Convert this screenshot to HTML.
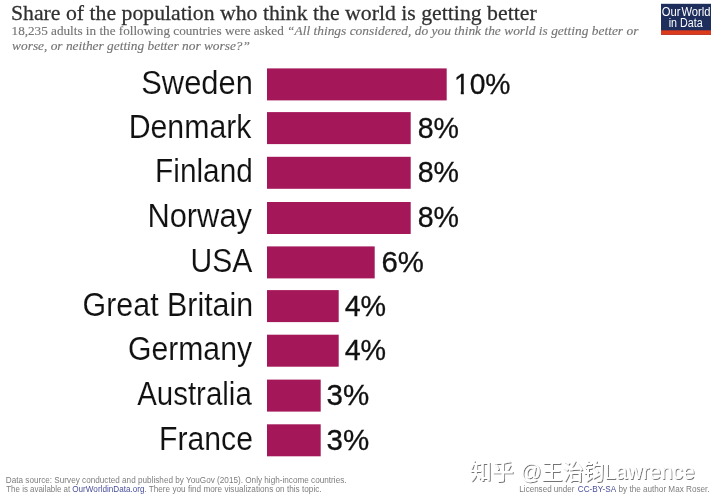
<!DOCTYPE html>
<html><head><meta charset="utf-8"><title>Share of the population who think the world is getting better</title>
<style>
html,body{margin:0;padding:0;background:#fff;}
body{width:714px;height:500px;overflow:hidden;}
svg{display:block;}
.ttl{font-family:"Liberation Serif","DejaVu Serif",serif;fill:#303030;stroke:#303030;stroke-width:0.25px;}
.sub{font-family:"Liberation Serif","DejaVu Serif",serif;fill:#757575;stroke:#757575;stroke-width:0.15px;}
.lab{font-family:"Liberation Sans","DejaVu Sans",sans-serif;fill:#111;stroke:#fff;stroke-width:0.12px;}
.val{font-family:"Liberation Sans","DejaVu Sans",sans-serif;fill:#111;stroke:#111;stroke-width:0.3px;}
.ft{font-family:"Liberation Sans","DejaVu Sans",sans-serif;fill:#7d7d7d;}
.lk{fill:#4a4f9c;}
.logo{font-family:"Liberation Sans","DejaVu Sans",sans-serif;fill:#fff;}
.wm{font-family:"Liberation Sans","Noto Sans CJK SC",sans-serif;fill:#fff;font-weight:500;}
</style></head><body>
<svg width="714" height="500" viewBox="0 0 714 500">
<defs><filter id="sh" x="-5%" y="-20%" width="110%" height="150%"><feDropShadow dx="1" dy="1" stdDeviation="0.7" flood-color="#000" flood-opacity="0.55"/></filter></defs>
<rect width="714" height="500" fill="#fff"/>
<rect x="661" y="3.8" width="50" height="31" fill="#1d2d5c"/>
<rect x="661" y="30.3" width="50" height="4.5" fill="#dc3a1d"/>
<rect x="267" y="68.40" width="179.7" height="32" fill="#a4185a"/>
<rect x="267" y="112.10" width="143.7" height="32" fill="#a4185a"/>
<rect x="267" y="156.80" width="143.7" height="32" fill="#a4185a"/>
<rect x="267" y="202.00" width="143.7" height="32" fill="#a4185a"/>
<rect x="267" y="246.40" width="107.7" height="32" fill="#a4185a"/>
<rect x="267" y="290.10" width="71.7" height="32" fill="#a4185a"/>
<rect x="267" y="334.70" width="71.7" height="32" fill="#a4185a"/>
<rect x="267" y="379.60" width="53.7" height="32" fill="#a4185a"/>
<rect x="267" y="424.30" width="53.7" height="32" fill="#a4185a"/>
<text class="ttl" font-size="21.5" transform="translate(10.94 19.90) scale(1.0123 1)">Share of the population who think the world is getting better</text>
<text class="sub" font-size="13.4" transform="translate(11.57 34.70) scale(0.9840 1)">18,235 adults in the following countries were asked</text>
<text class="sub" font-size="13.4" font-style="italic" transform="translate(287.01 34.70) scale(1.0020 1)">“All things considered, do you think the world is getting better or</text>
<text class="sub" font-size="13.4" font-style="italic" transform="translate(12.09 49.60) scale(0.9977 1)">worse, or neither getting better nor worse?”</text>
<text class="logo" font-size="12" style="word-spacing:-2.2px" transform="translate(661.69 15.70) scale(0.9356 1)">Our World</text>
<text class="logo" font-size="12" transform="translate(668.68 27.30) scale(0.8940 1)">in Data</text>
<text class="lab" font-size="32.5" transform="translate(141.23 94.00) scale(0.9511 1)">Sweden</text>
<text class="val" font-size="29" transform="translate(453.93 94.00) scale(0.9753 1)">10%</text>
<rect x="455.19" y="90.60" width="5.59" height="4.7" fill="#fff"/>
<rect x="463.81" y="90.60" width="5.64" height="4.7" fill="#fff"/>
<text class="lab" font-size="32.5" transform="translate(128.63 138.00) scale(0.9321 1)">Denmark</text>
<text class="val" font-size="29" transform="translate(417.71 138.00) scale(0.9864 1)">8%</text>
<text class="lab" font-size="32.5" transform="translate(155.07 182.00) scale(0.9175 1)">Finland</text>
<text class="val" font-size="29" transform="translate(417.71 182.00) scale(0.9864 1)">8%</text>
<text class="lab" font-size="32.5" transform="translate(147.39 227.00) scale(0.9496 1)">Norway</text>
<text class="val" font-size="29" transform="translate(417.71 227.00) scale(0.9864 1)">8%</text>
<text class="lab" font-size="32.5" transform="translate(190.52 272.00) scale(0.9268 1)">USA</text>
<text class="val" font-size="29" transform="translate(381.52 272.00) scale(1.0128 1)">6%</text>
<text class="lab" font-size="32.5" transform="translate(82.58 316.00) scale(0.9353 1)">Great Britain</text>
<text class="val" font-size="29" transform="translate(344.65 316.00) scale(0.9902 1)">4%</text>
<text class="lab" font-size="32.5" transform="translate(127.99 360.00) scale(0.9279 1)">Germany</text>
<text class="val" font-size="29" transform="translate(344.65 360.00) scale(0.9902 1)">4%</text>
<text class="lab" font-size="32.5" transform="translate(137.20 405.00) scale(0.9064 1)">Australia</text>
<text class="val" font-size="29" transform="translate(326.48 405.00) scale(1.0188 1)">3%</text>
<text class="lab" font-size="32.5" transform="translate(159.04 450.00) scale(0.9291 1)">France</text>
<text class="val" font-size="29" transform="translate(326.48 450.00) scale(1.0188 1)">3%</text>
<text class="ft" font-size="8.3" transform="translate(5.76 483.00) scale(0.9855 1)">Data source: Survey conducted and published by YouGov (2015). Only high-income countries.</text>
<text class="ft" font-size="8.3" transform="translate(6.26 492.20) scale(0.9581 1)">The is available at</text>
<text class="ft lk" font-size="8.3" transform="translate(72.26 492.20) scale(0.9809 1)">OurWorldinData.org</text>
<text class="ft" font-size="8.3" transform="translate(144.26 492.20) scale(0.9901 1)">. There you find more visualizations on this topic.</text>
<text class="ft" font-size="8.3" transform="translate(519.37 491.80) scale(0.9715 1)">Licensed under</text>
<text class="ft lk" font-size="8.3" transform="translate(577.81 491.80) scale(0.9867 1)">CC-BY-SA</text>
<text class="ft" font-size="8.3" transform="translate(618.51 491.80) scale(0.9839 1)">by the author Max Roser.</text>
<text class="wm" font-size="22" filter="url(#sh)" transform="translate(469.86 479.00) scale(0.9947 1)">知乎</text>
<text class="wm" font-size="22" filter="url(#sh)" transform="translate(520.37 479.00) scale(0.9486 1)">@王治钧Lawrence</text>
</svg>
</body></html>
